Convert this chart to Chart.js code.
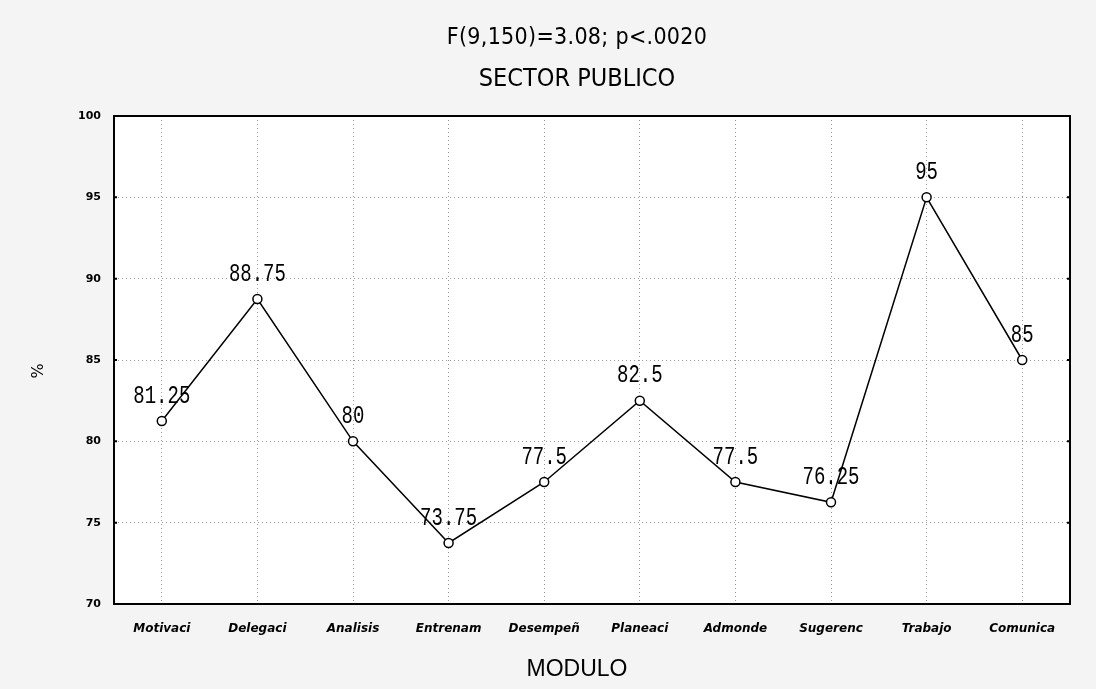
<!DOCTYPE html>
<html lang="es">
<head>
  <meta charset="UTF-8" />
  <title>SECTOR PUBLICO</title>
  <script src="https://cdn.jsdelivr.net/npm/chart.js"></script>
  <style>
    body {
      margin: 0;
      background: #f4f4f4;
    }
    .wrap {
      position: relative;
      width: 1096px;
      height: 689px;
    }
  </style>
</head>
<body>
  <div class="wrap">
    <canvas id="moduloChart"></canvas>
  </div>

  <script>
    // Datos: porcentaje medio por módulo
    const modulos = ['Motivaci', 'Delegaci', 'Analisis', 'Entrenam', 'Desempeñ', 'Planeaci', 'Admonde', 'Sugerenc', 'Trabajo', 'Comunica'];
    const porcentajes = [81.25, 88.75, 80, 73.75, 77.5, 82.5, 77.5, 76.25, 95, 85];
    const yTicks = [70, 75, 80, 85, 90, 95, 100];

    const tituloLineas = ['F(9,150)=3.08; p<.0020', 'SECTOR PUBLICO'];
    const tituloX = 'MODULO';
    const tituloY = '%';

    const narrow = "'Liberation Sans Narrow', 'DejaVu Sans Condensed', 'Liberation Sans', sans-serif";

    // Fondo gris, área de gráfico blanca y marco negro
    const marcoPlugin = {
      id: 'marco',
      beforeDraw(chart) {
        const { ctx, chartArea: a } = chart;
        ctx.save();
        ctx.fillStyle = '#f4f4f4';
        ctx.fillRect(0, 0, chart.width, chart.height);
        ctx.fillStyle = '#ffffff';
        ctx.fillRect(a.left, a.top, a.right - a.left, a.bottom - a.top);
        ctx.restore();
      },
      afterDraw(chart) {
        const { ctx, chartArea: a, scales } = chart;
        ctx.save();
        ctx.strokeStyle = '#000';
        ctx.lineWidth = 2;
        ctx.strokeRect(a.left, a.top, a.right - a.left, a.bottom - a.top);
        // marcas cortas hacia dentro en ambos lados
        yTicks.forEach(v => {
          const y = scales.y.getPixelForValue(v);
          ctx.beginPath();
          ctx.moveTo(a.left, y); ctx.lineTo(a.left + 3, y);
          ctx.moveTo(a.right, y); ctx.lineTo(a.right - 3, y);
          ctx.stroke();
        });

        // títulos
        const cx = (a.left + a.right) / 2 - 15;
        ctx.fillStyle = '#000';
        ctx.textAlign = 'center';
        ctx.textBaseline = 'alphabetic';
        ctx.font = '23px ' + narrow;
        ctx.letterSpacing = '0.3px';
        ctx.fillText(tituloLineas[0], cx, 44);
        ctx.letterSpacing = '0px';
        ctx.font = '25px ' + narrow;
        ctx.fillText(tituloLineas[1], cx, 86);

        ctx.font = "23px 'Liberation Sans', sans-serif";
        ctx.fillText(tituloX, cx, 676);

        ctx.save();
        ctx.translate(39, (a.top + a.bottom) / 2 + 11);
        ctx.rotate(-Math.PI / 2);
        ctx.font = "16px 'DejaVu Sans', sans-serif";
        ctx.textBaseline = 'middle';
        ctx.fillText(tituloY, 0, 0);
        ctx.restore();
        ctx.restore();
      }
    };

    // Etiquetas de valor sobre cada punto
    const etiquetasPlugin = {
      id: 'etiquetas',
      afterDatasetsDraw(chart) {
        const { ctx } = chart;
        const meta = chart.getDatasetMeta(0);
        ctx.save();
        ctx.fillStyle = '#000';
        ctx.textAlign = 'center';
        ctx.textBaseline = 'middle';
        ctx.font = "19px 'Liberation Mono', monospace";
        meta.data.forEach((pt, i) => {
          ctx.save();
          ctx.translate(pt.x, pt.y - 25);
          ctx.scale(1, 1.35);
          ctx.fillText(String(porcentajes[i]), 0, 0);
          ctx.restore();
        });
        ctx.restore();
      }
    };

    const ctx = document.getElementById('moduloChart').getContext('2d');
    new Chart(ctx, {
      type: 'line',
      data: {
        labels: modulos,
        datasets: [{
          data: porcentajes,
          borderColor: '#000',
          borderWidth: 1.5,
          tension: 0,
          pointRadius: 4.5,
          pointBorderWidth: 1.5,
          pointBackgroundColor: '#fff',
          pointBorderColor: '#000'
        }]
      },
      options: {
        responsive: true,
        maintainAspectRatio: false,
        animation: false,
        layout: { padding: { top: 116, right: 26, bottom: 0, left: 0 } },
        plugins: {
          legend: { display: false },
          tooltip: { enabled: false }
        },
        scales: {
          x: {
            type: 'category',
            offset: true,
            grid: {
              offset: false,
              color: '#9a9a9a',
              lineWidth: 1,
              drawTicks: false
            },
            border: { display: false, dash: [1, 3] },
            ticks: {
              color: '#000',
              padding: 18,
              maxRotation: 0,
              autoSkip: false,
              font: { family: "'DejaVu Sans', sans-serif", size: 12, weight: 'bold', style: 'italic' }
            },
            afterFit(scale) { scale.height = 85; }
          },
          y: {
            min: 70,
            max: 100,
            afterBuildTicks(scale) { scale.ticks = yTicks.map(v => ({ value: v })); },
            grid: {
              color: '#9a9a9a',
              lineWidth: 1,
              drawTicks: false
            },
            border: { display: false, dash: [1, 3] },
            ticks: {
              color: '#000',
              padding: 13,
              font: { family: "'DejaVu Sans', sans-serif", size: 11, weight: 'bold' }
            },
            afterFit(scale) { scale.width = 114; }
          }
        }
      },
      plugins: [marcoPlugin, etiquetasPlugin]
    });
  </script>
</body>
</html>
